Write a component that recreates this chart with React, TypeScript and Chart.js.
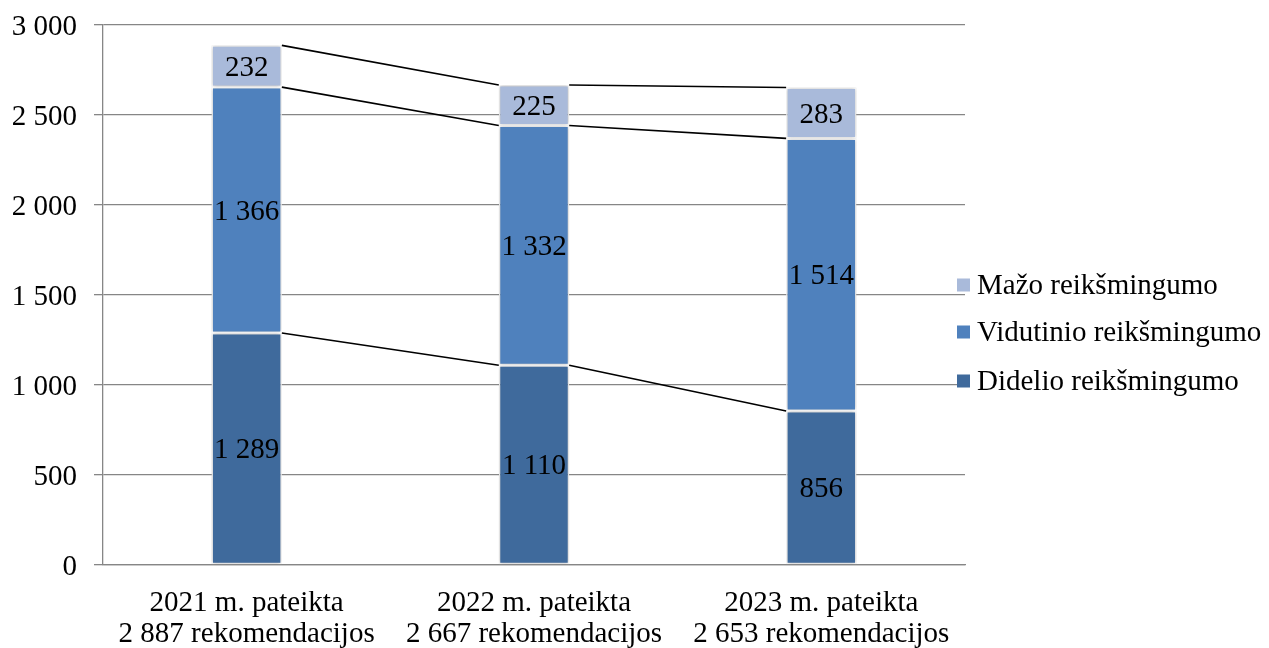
import React, { useEffect, useRef } from "react";
import { Chart, registerables } from "chart.js";

Chart.register(...registerables);

const categories: string[][] = [
  ["2021 m. pateikta", "2 887 rekomendacijos"],
  ["2022 m. pateikta", "2 667 rekomendacijos"],
  ["2023 m. pateikta", "2 653 rekomendacijos"],
];
const seriesNames = ["Didelio reikšmingumo", "Vidutinio reikšmingumo", "Mažo reikšmingumo"];
const didelio = [1289, 1110, 856];
const vidutinio = [1366, 1332, 1514];
const mazo = [232, 225, 283];
const colors = ["#3F6A9C", "#4F81BD", "#A9BADA"];
const yMax = 3000;
const yStep = 500;

const FONT = '"Liberation Serif", "Times New Roman", serif';
const FS = 29;

const fmt = (v: number) => String(v).replace(/\B(?=(\d{3})+(?!\d))/g, " ");

export default function App() {
  const ref = useRef<HTMLCanvasElement | null>(null);
  useEffect(() => {
    document.body.style.margin = "0";
    const canvas = ref.current;
    if (!canvas) return;

    const shadowPlugin = {
      id: "shadow",
      beforeDatasetsDraw(chart: any) {
        const ctx = chart.ctx;
        ctx.save();
        ctx.shadowColor = "rgba(0,0,0,0.28)";
        ctx.shadowBlur = 4;
        ctx.shadowOffsetX = 0;
        ctx.shadowOffsetY = 0;
      },
      afterDatasetsDraw(chart: any) {
        chart.ctx.restore();
      },
    };

    const seriesLines = {
      id: "seriesLines",
      afterDatasetsDraw(chart: any) {
        const ctx = chart.ctx;
        ctx.save();
        ctx.strokeStyle = "#000";
        ctx.lineWidth = 1.6;
        chart.data.datasets.forEach((_: any, di: number) => {
          const meta = chart.getDatasetMeta(di);
          const els = meta.data;
          for (let i = 0; i < els.length - 1; i++) {
            const a = els[i];
            const b = els[i + 1];
            ctx.beginPath();
            ctx.moveTo(a.x + a.width / 2, a.y);
            ctx.lineTo(b.x - b.width / 2, b.y);
            ctx.stroke();
          }
        });
        ctx.restore();
      },
    };

    const dataLabels = {
      id: "dataLabels",
      afterDatasetsDraw(chart: any) {
        const ctx = chart.ctx;
        ctx.save();
        ctx.fillStyle = "#000";
        ctx.font = `${FS}px ${FONT}`;
        ctx.textAlign = "center";
        ctx.textBaseline = "middle";
        chart.data.datasets.forEach((ds: any, di: number) => {
          const meta = chart.getDatasetMeta(di);
          meta.data.forEach((el: any, i: number) => {
            const y = (el.y + el.base) / 2;
            ctx.fillText(fmt(ds.data[i]), el.x, y + 2);
          });
        });
        ctx.restore();
      },
    };

    const customLegend = {
      id: "customLegend",
      afterDraw(chart: any) {
        const ctx = chart.ctx;
        ctx.save();
        ctx.font = `${FS}px ${FONT}`;
        ctx.textBaseline = "middle";
        ctx.textAlign = "left";
        const order = [2, 1, 0];
        const rowYs = [285, 332, 381];
        order.forEach((di, k) => {
          const y = rowYs[k];
          ctx.fillStyle = colors[di];
          ctx.fillRect(957, y - 6.5, 13, 13);
          ctx.fillStyle = "#000";
          ctx.fillText(seriesNames[di], 977, y + 1);
        });
        ctx.restore();
      },
    };

    const chart = new Chart(canvas, {
      type: "bar",
      data: {
        labels: categories,
        datasets: [
          { label: seriesNames[0], data: didelio, backgroundColor: colors[0] },
          { label: seriesNames[1], data: vidutinio, backgroundColor: colors[1] },
          { label: seriesNames[2], data: mazo, backgroundColor: colors[2] },
        ].map((d) => ({
          ...d,
          borderColor: "#FFFFFF",
          borderWidth: 1.5,
          borderSkipped: false,
          barPercentage: 1,
          categoryPercentage: 0.245,
        })),
      },
      options: {
        responsive: true,
        maintainAspectRatio: false,
        animation: false,
        layout: { padding: { top: 25, right: 304, left: 0, bottom: 0 } },
        plugins: {
          legend: { display: false },
          tooltip: { enabled: false },
          title: { display: false },
        },
        scales: {
          x: {
            stacked: true,
            grid: { display: false, drawTicks: false },
            border: { display: true, color: "#868686", width: 1.3 },
            ticks: {
              color: "#000",
              font: { family: FONT, size: FS, lineHeight: 1.07 },
              padding: 23,
              maxRotation: 0,
              minRotation: 0,
              autoSkip: false,
            },
            afterFit(scale: any) {
              scale.height = 83;
              scale.paddingLeft = 0;
              scale.paddingRight = 0;
            },
          },
          y: {
            stacked: true,
            min: 0,
            max: yMax,
            ticks: {
              stepSize: yStep,
              color: "#000",
              font: { family: FONT, size: FS },
              padding: 17,
              labelOffset: 2,
              callback: (v: any) => fmt(Number(v)),
            },
            grid: { color: "#868686", lineWidth: 1.3, tickLength: 9, drawTicks: true },
            border: { display: true, color: "#868686", width: 1.3 },
            afterFit(scale: any) {
              scale.width = 103;
              scale.paddingTop = 0;
              scale.paddingBottom = 0;
            },
          },
        },
      },
      plugins: [shadowPlugin, seriesLines, dataLabels, customLegend],
    } as any);
    return () => chart.destroy();
  }, []);

  return (
    <div style={{ position: "absolute", left: 0, top: 0, width: 1269, height: 648, background: "#fff" }}>
      <canvas ref={ref} />
    </div>
  );
}
